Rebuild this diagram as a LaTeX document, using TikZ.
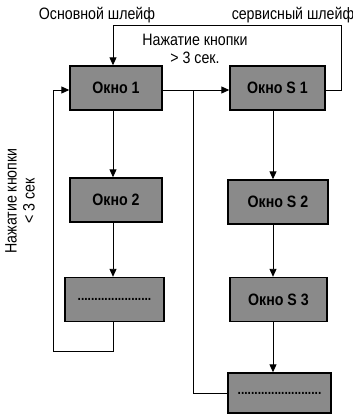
\documentclass[tikz,border=0pt]{standalone}
\usepackage{fontspec}
\setmainfont{Liberation Sans}[FakeStretch=0.86]
\usetikzlibrary{arrows.meta}
\definecolor{winfill}{RGB}{138,138,138}

\begin{document}
\begin{tikzpicture}[x=1pt,y=-1pt,
  win/.style={draw=black,line width=1.4pt,fill=winfill,minimum height=44pt,inner sep=0pt,font=\bfseries\fontsize{16.5}{18}\selectfont},
  flow/.style={line width=0.9pt,-{Triangle[length=8pt,width=7pt]}},
  loopline/.style={line width=0.9pt},
  lbl/.style={font=\fontsize{16.5}{18}\selectfont,align=center}]

\useasboundingbox (0,0) rectangle (353,416);

% Main loop windows
\node[win,minimum width=92pt] (o1) at (116,88) {Окно 1};
\node[win,minimum width=92pt] (o2) at (116,200) {Окно 2};
\node[win,minimum width=99pt] (od) at (114.5,299.5) {\fontsize{14}{16}\selectfont......................};
% Service loop windows
\node[win,minimum width=95pt] (s1) at (277.5,88) {Окно S 1};
\node[win,minimum width=100pt] (s2) at (278,202) {Окно S 2};
\node[win,minimum width=97pt] (s3) at (278.5,299.5) {Окно S 3};
\node[win,minimum width=103pt,minimum height=40pt] (sd) at (279.5,393) {\fontsize{14}{16}\selectfont.........................};

% Columns and corners of the connectors
\coordinate (cl) at (113,0);
\coordinate (cr) at (273,0);
\coordinate (br) at (193,90);
\coordinate (tr) at (341,25);
\coordinate (bl) at (53,351);

% Down the columns
\draw[flow] (o1.south -| cl) -- (o2.north -| cl);
\draw[flow] (o2.south -| cl) -- (od.north -| cl);
\draw[flow] (s1.south -| cr) -- (s2.north -| cr);
\draw[flow] (s2.south -| cr) -- (s3.north -| cr);
\draw[flow] (s3.south -| cr) -- (sd.north -| cr);

% Long press into the service loop
\draw[flow] ([yshift=-2pt]o1.east) -- ([yshift=-2pt]o1.east -| s1.west);
\draw[loopline] (br) |- (sd.west);
% Back to the main loop
\draw[flow] ([yshift=-2pt]s1.east) -| (tr) -| (o1.north -| cl);
% Short press loop
\draw[flow] (od.south -| cl) |- (bl) |- ([yshift=-2pt]o1.west);

% Labels
\node[lbl] (mainlbl) at (97,15) {Основной шлейф};
\node[lbl] (servlbl) at (293,15) {сервисный шлейф};
\node[lbl] (longlbl) at (195,49) {Нажатие кнопки\\> 3 сек.};
\node[lbl,rotate=90] (shortlbl) at (20,201) {Нажатие кнопки\\< 3 сек};

\end{tikzpicture}
\end{document}
